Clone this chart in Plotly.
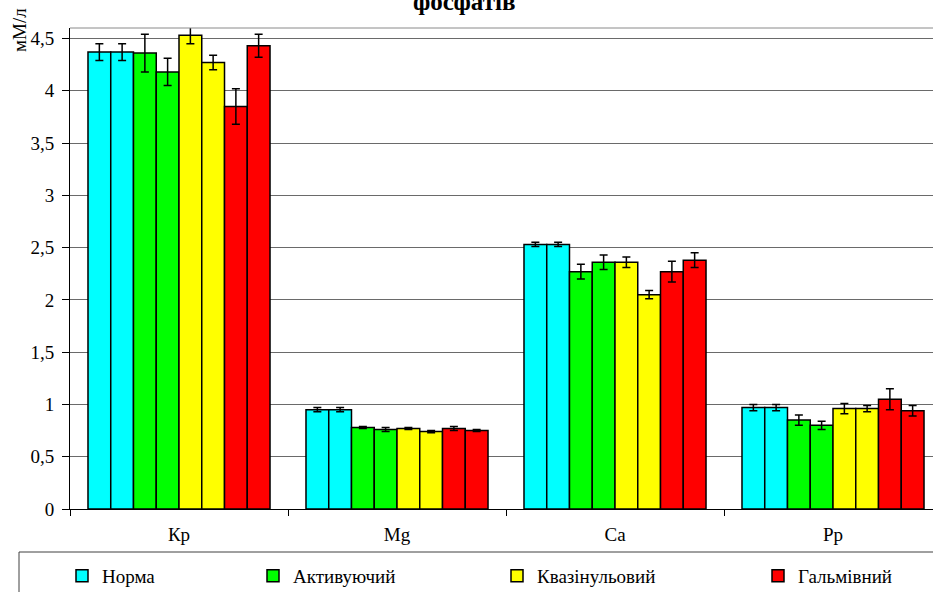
import plotly.graph_objects as go

categories = ["Кр", "Mg", "Ca", "Рр"]

groups = ["Норма", "Активуючий", "Квазінульовий", "Гальмівний"]
colors = ["#00FFFF", "#00FF00", "#FFFF00", "#FF0000"]

# two bars per group, values per category (Кр, Mg, Ca, Рр)
norma_1 = [4.37, 0.95, 2.53, 0.97]
norma_2 = [4.37, 0.95, 2.53, 0.97]
norma_1_err = [0.08, 0.02, 0.02, 0.03]
norma_2_err = [0.08, 0.02, 0.02, 0.03]

aktyv_1 = [4.36, 0.78, 2.27, 0.85]
aktyv_2 = [4.18, 0.76, 2.36, 0.80]
aktyv_1_err = [0.18, 0.01, 0.07, 0.05]
aktyv_2_err = [0.13, 0.02, 0.07, 0.04]

kvazi_1 = [4.53, 0.77, 2.36, 0.96]
kvazi_2 = [4.27, 0.74, 2.05, 0.96]
kvazi_1_err = [0.08, 0.01, 0.05, 0.05]
kvazi_2_err = [0.07, 0.01, 0.04, 0.03]

halm_1 = [3.85, 0.77, 2.27, 1.05]
halm_2 = [4.43, 0.75, 2.38, 0.94]
halm_1_err = [0.17, 0.02, 0.10, 0.10]
halm_2_err = [0.11, 0.01, 0.07, 0.05]

y_tickvals = [0, 0.5, 1, 1.5, 2, 2.5, 3, 3.5, 4, 4.5]
y_ticktext = ["0", "0,5", "1", "1,5", "2", "2,5", "3", "3,5", "4", "4,5"]

series = [
    (norma_1, norma_1_err, norma_2, norma_2_err),
    (aktyv_1, aktyv_1_err, aktyv_2, aktyv_2_err),
    (kvazi_1, kvazi_1_err, kvazi_2, kvazi_2_err),
    (halm_1, halm_1_err, halm_2, halm_2_err),
]

FONT = "Liberation Serif"
FS = 19
W, H = 933, 592
ML, MR, MT, MB = 70, 0, 28, 83
PW = W - ML - MR
PH = H - MT - MB

def px2paper_x(px):
    return (px - ML) / PW

def px2paper_y(py):
    return (H - MB - py) / PH

fig = go.Figure()
legend_names = ["legend", "legend2", "legend3", "legend4"]
for gi, (name, col, s) in enumerate(zip(groups, colors, series)):
    v1, e1, v2, e2 = s
    for k, (vals, errs) in enumerate([(v1, e1), (v2, e2)]):
        fig.add_trace(go.Bar(
            x=categories, y=vals, name=name,
            legend=legend_names[gi],
            legendgroup=name, showlegend=(k == 0),
            marker=dict(color=col, line=dict(color="#000000", width=1.5)),
            error_y=dict(type="data", array=errs, visible=True,
                         color="#000000", thickness=1.5, width=4),
        ))

legend_square_left_px = [62, 253, 497, 758]
layout_legends = {}
for i, lname in enumerate(legend_names):
    layout_legends[lname] = dict(
        x=px2paper_x(legend_square_left_px[i]), xanchor="left",
        y=px2paper_y(576), yanchor="middle",
        orientation="h", bgcolor="rgba(0,0,0,0)", borderwidth=0,
        font=dict(family=FONT, size=FS, color="#000000"),
    )

fig.update_layout(
    width=W, height=H,
    margin=dict(l=ML, r=MR, t=MT, b=MB, autoexpand=False),
    paper_bgcolor="#FFFFFF", plot_bgcolor="#FFFFFF",
    barmode="group", bargap=0.165, bargroupgap=0,
    font=dict(family=FONT, size=FS, color="#000000"),
    showlegend=True,
    **layout_legends,
)

fig.update_xaxes(
    range=[-0.5, -0.5 + PW / 218.0],
    showline=True, linecolor="#000000", linewidth=1,
    ticks="outside", tickson="boundaries", ticklen=6, tickcolor="#000000",
    showgrid=False, ticklabelstandoff=8,
    tickfont=dict(family=FONT, size=FS, color="#000000"),
)
fig.update_yaxes(
    range=[0, 4.6],
    tickvals=y_tickvals, ticktext=y_ticktext,
    showline=True, linecolor="#000000", linewidth=1,
    ticks="outside", ticklen=7, tickcolor="#000000",
    showgrid=True, gridcolor="#6a6a6a", gridwidth=1,
    zeroline=False, ticklabelstandoff=4,
    tickfont=dict(family=FONT, size=FS, color="#000000"),
)

# top border of the plot area
fig.add_shape(type="line", xref="paper", yref="y domain",
              x0=0, x1=1, y0=1, y1=1, line=dict(color="#8a8a8a", width=1))
# legend box
fig.add_shape(type="rect", xref="paper", yref="paper",
              x0=px2paper_x(19), x1=px2paper_x(960),
              y0=px2paper_y(552), y1=px2paper_y(620),
              line=dict(color="#404040", width=1), fillcolor="rgba(0,0,0,0)")

# y axis title
fig.add_annotation(text="мМ/л", xref="paper", yref="paper",
                   x=px2paper_x(19), y=px2paper_y(30),
                   xanchor="center", yanchor="middle", textangle=-90,
                   showarrow=False, font=dict(family=FONT, size=FS, color="#000000"))
# title (cut off at the top of the page)
fig.add_annotation(text="<b>фосфатів</b>", xref="paper", yref="paper",
                   x=px2paper_x(411), y=px2paper_y(1.5),
                   xanchor="left", yanchor="middle",
                   showarrow=False, font=dict(family=FONT, size=25, color="#000000"))

fig.write_html("out.html", config={"displayModeBar": False},
               post_script="document.body.style.margin='0';")
